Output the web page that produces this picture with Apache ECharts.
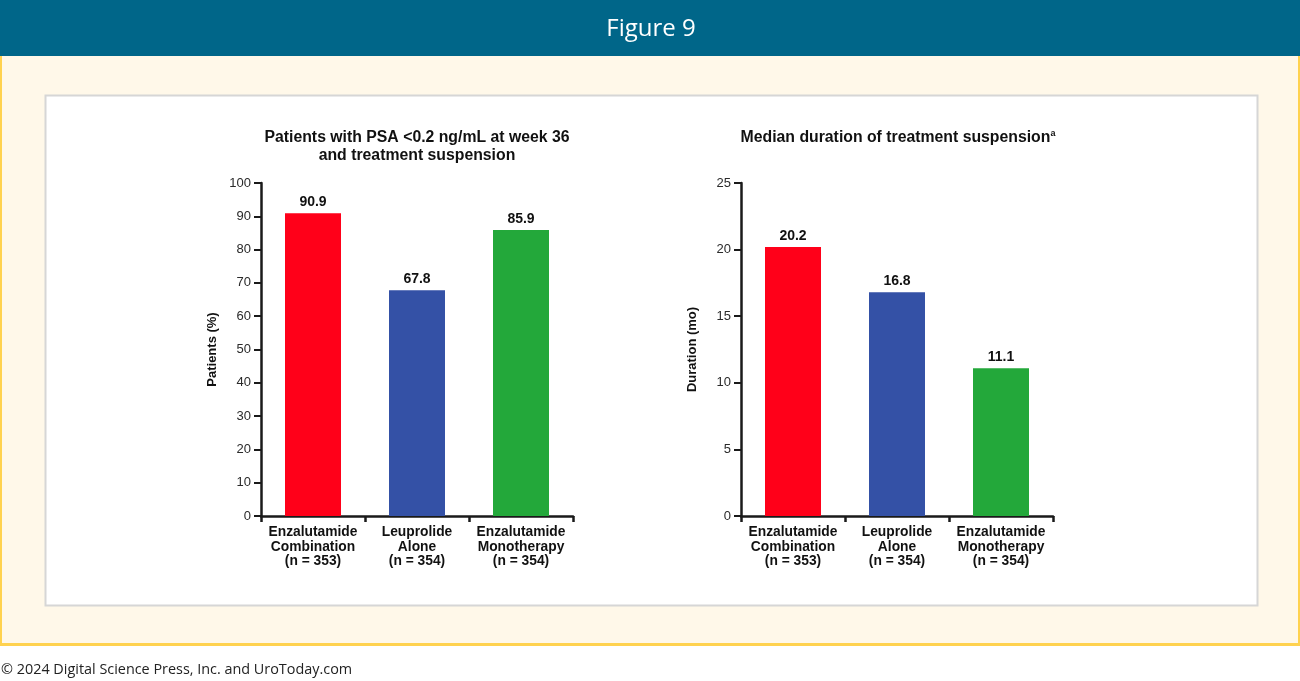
<!DOCTYPE html>
<html>
<head>
<meta charset="utf-8">
<script src="https://cdn.jsdelivr.net/npm/echarts@6/dist/echarts.min.js"></script>
<style>
html,body{margin:0;padding:0;background:#fff;}
#c{width:1300px;height:681px;}
</style>
</head>
<body>
<div id="c"></div>
<script>
const categories = ['Enzalutamide\nCombination\n(n = 353)', 'Leuprolide\nAlone\n(n = 354)', 'Enzalutamide\nMonotherapy\n(n = 354)'];
const patientsPct = [90.9, 67.8, 85.9];
const durationMo = [20.2, 16.8, 11.1];
const barColors = ['#FF0019', '#3451A6', '#23A83A'];
const leftTitle = 'Patients with PSA <0.2 ng/mL at week 36\nand treatment suspension';
const rightTitle = 'Median duration of treatment suspension';
const figureTitle = 'Figure 9';
const footer = '© 2024 Digital Science Press, Inc. and UroToday.com';

const chart = echarts.init(document.getElementById('c'), null, {renderer: 'canvas'});
const axisColor = '#1a1a1a';
const font = 'Arial, "Liberation Sans", sans-serif';

function yAxis(gi, max, interval, name) {
  return {
    type: 'value', gridIndex: gi, min: 0, max: max, interval: interval,
    name: name, nameLocation: 'middle', nameRotate: 90, nameGap: 42,
    nameTextStyle: {fontFamily: font, fontWeight: 'bold', fontSize: 13, color: '#111'},
    axisLine: {show: true, lineStyle: {color: axisColor, width: 2.5}},
    axisTick: {show: true, length: 7, lineStyle: {color: axisColor, width: 2}},
    axisLabel: {fontFamily: font, fontSize: 13, color: '#2a2a2a', margin: 10},
    splitLine: {show: false}
  };
}
function xAxis(gi) {
  return {
    type: 'category', gridIndex: gi, data: categories,
    axisLine: {show: true, lineStyle: {color: axisColor, width: 2.5}},
    axisTick: {show: true, length: 6, lineStyle: {color: axisColor, width: 2.5}},
    axisLabel: {interval: 0, fontFamily: font, fontWeight: 'bold', fontSize: 13.8, lineHeight: 14.5, color: '#111', margin: 9}
  };
}
function barSeries(gi, data) {
  return {
    type: 'bar', xAxisIndex: gi, yAxisIndex: gi, barWidth: 56,
    data: data.map((v, i) => ({value: v, itemStyle: {color: barColors[i]}})),
    label: {show: true, position: 'top', distance: 4, fontFamily: font, fontWeight: 'bold', fontSize: 14, color: '#111',
      formatter: p => p.value.toFixed(1)},
    animation: false
  };
}

chart.setOption({
  animation: false,
  backgroundColor: '#ffffff',
  graphic: [
    {type: 'rect', shape: {x: 0, y: 56, width: 1300, height: 590}, style: {fill: '#FFD24F'}, z: -10},
    {type: 'rect', shape: {x: 2, y: 56, width: 1296, height: 587}, style: {fill: '#FFF8E9'}, z: -9},
    {type: 'rect', shape: {x: 0, y: 0, width: 1300, height: 56}, style: {fill: '#006689'}, z: -8},
    {type: 'rect', shape: {x: 45.5, y: 95.5, width: 1212, height: 510}, style: {fill: '#ffffff', stroke: '#D6D6D6', lineWidth: 2}, z: -7},
    {type: 'text', x: 651, y: 29, style: {text: figureTitle, fill: '#ffffff', font: '500 24px "Open Sans", "Noto Sans", sans-serif', align: 'center', verticalAlign: 'middle'}, z: 5},
    {type: 'text', x: 1, y: 670, style: {text: footer, fill: '#222222', font: '14.4px "Open Sans", "Noto Sans", sans-serif', align: 'left', verticalAlign: 'middle'}, z: 5}
  ],
  title: [
    {text: leftTitle, left: 412, top: 124, textAlign: 'center',
      textStyle: {fontFamily: font, fontWeight: 'bold', fontSize: 15.8, lineHeight: 18, color: '#111'}},
    {text: '{n|' + rightTitle + '}{s|a}', left: 893, top: 124, textAlign: 'center',
      textStyle: {rich: {
        n: {fontFamily: font, fontWeight: 'bold', fontSize: 15.8, lineHeight: 18, color: '#111'},
        s: {fontFamily: font, fontWeight: 'bold', fontSize: 9, lineHeight: 18, verticalAlign: 'top', color: '#111', padding: [0,0,6,0]}
      }}}
  ],
  grid: [
    {left: 261, top: 183, width: 312, height: 333},
    {left: 741, top: 183, width: 312, height: 333}
  ],
  xAxis: [xAxis(0), xAxis(1)],
  yAxis: [yAxis(0, 100, 10, 'Patients (%)'), yAxis(1, 25, 5, 'Duration (mo)')],
  series: [barSeries(0, patientsPct), barSeries(1, durationMo)]
});
</script>
</body>
</html>
